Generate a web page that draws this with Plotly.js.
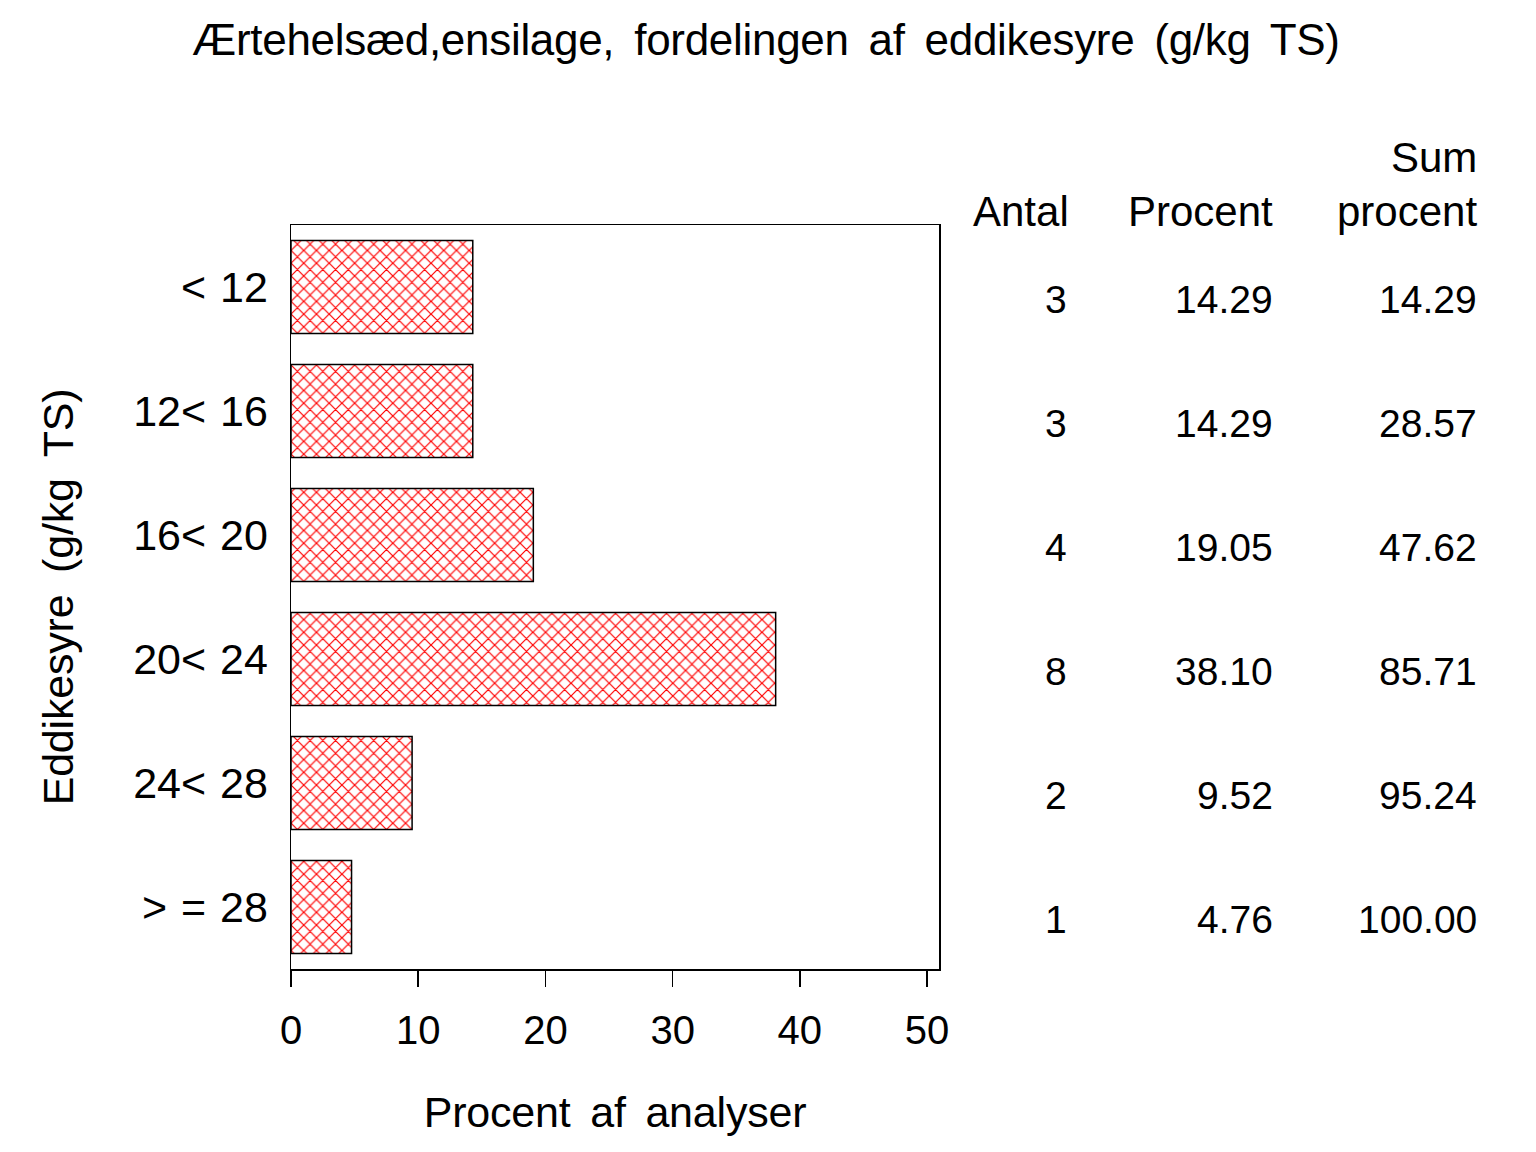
<!DOCTYPE html>
<html>
<head>
<meta charset="utf-8">
<script src="https://cdn.plot.ly/plotly-3.0.1.min.js"></script>
<style>
html,body{margin:0;padding:0;background:#fff;}
#chart{width:1536px;height:1152px;}
.main-svg .gtitle{letter-spacing:-0.3px;word-spacing:8px;}
.main-svg .xtitle{letter-spacing:-0.2px;word-spacing:8px;}
.main-svg .ytitle{letter-spacing:-0.2px;word-spacing:10px;}
.main-svg .ytick text{word-spacing:2px;}
</style>
</head>
<body>
<div id="chart"></div>
<script>
const categories = ["< 12", "12< 16", "16< 20", "20< 24", "24< 28", "> = 28"];
const procent = [14.29, 14.29, 19.05, 38.10, 9.52, 4.76];
const antal = [3, 3, 4, 8, 2, 1];
const procentText = ["14.29", "14.29", "19.05", "38.10", "9.52", "4.76"];
const sumProcentText = ["14.29", "28.57", "47.62", "85.71", "95.24", "100.00"];
const xTicks = [0, 10, 20, 30, 40, 50];

const FONT = "Liberation Sans, Arial, Helvetica, sans-serif";
const L = 291, R = 939, T = 225, B = 969;
const W = 1536, H = 1152;
function px2paperX(px){ return (px - L) / (R - L); }
function px2paperY(py){ return (B - py) / (B - T); }

const trace = {
  type: "bar",
  orientation: "h",
  y: categories,
  x: procent,
  width: 0.75,
  marker: {
    color: "white",
    line: {color: "black", width: 1.5},
    pattern: {shape: "x", fgcolor: "red", bgcolor: "white", size: 9, solidity: 0.25, fillmode: "replace"}
  },
  hoverinfo: "skip"
};

const annotations = [];
const colX = [1069, 1275, 1479];
const cols = [antal.map(String), procentText, sumProcentText];
for (let c = 0; c < 3; c++) {
  for (let i = 0; i < categories.length; i++) {
    annotations.push({
      xref: "paper", yref: "y", x: px2paperX(colX[c]), y: categories[i],
      xanchor: "right", yanchor: "middle", yshift: -12, text: cols[c][i], showarrow: false,
      font: {family: FONT, size: 39, color: "black"}
    });
  }
}
const headers = [
  {t: "Antal", x: 1071, y: 211},
  {t: "Procent", x: 1275, y: 211},
  {t: "procent", x: 1479, y: 211},
  {t: "Sum", x: 1479, y: 157}
];
headers.forEach(h => annotations.push({
  xref: "paper", yref: "paper", x: px2paperX(h.x), y: px2paperY(h.y),
  xanchor: "right", yanchor: "middle", text: h.t, showarrow: false,
  font: {family: FONT, size: 42, color: "black"}
}));

const layout = {
  width: W, height: H,
  paper_bgcolor: "white", plot_bgcolor: "white",
  font: {family: FONT, color: "black", size: 39},
  margin: {l: L, r: W - R, t: T, b: H - B, pad: 0},
  showlegend: false,
  title: {
    text: "Ærtehelsæd,ensilage, fordelingen af eddikesyre (g/kg TS)",
    font: {family: FONT, size: 44, color: "black"},
    x: 766 / W, xanchor: "center", xref: "container",
    y: 1 - 40 / H, yanchor: "middle", yref: "container"
  },
  xaxis: {
    range: [0, 50.94],
    tickvals: xTicks,
    ticktext: xTicks.map(String),
    ticks: "outside", ticklen: 16, tickwidth: 1.5, tickcolor: "black",
    showline: true, linecolor: "black", linewidth: 1.5, mirror: true,
    showgrid: false, zeroline: false,
    tickfont: {family: FONT, size: 40, color: "black"},
    ticklabelstandoff: 9,
    title: {text: "Procent af analyser", font: {family: FONT, size: 43, color: "black"}, standoff: 46}
  },
  yaxis: {
    type: "category",
    categoryorder: "array", categoryarray: categories,
    autorange: "reversed",
    range: [5.5, -0.5],
    ticks: "",
    showline: true, linecolor: "black", linewidth: 1.5, mirror: true,
    showgrid: false, zeroline: false,
    tickfont: {family: FONT, size: 43, color: "black"},
    ticklabelstandoff: 13,
    title: {text: "Eddikesyre (g/kg TS)", font: {family: FONT, size: 43, color: "black"}, standoff: 48}
  },
  annotations: annotations
};

Plotly.newPlot("chart", [trace], layout, {displayModeBar: false, staticPlot: true});
</script>
</body>
</html>
